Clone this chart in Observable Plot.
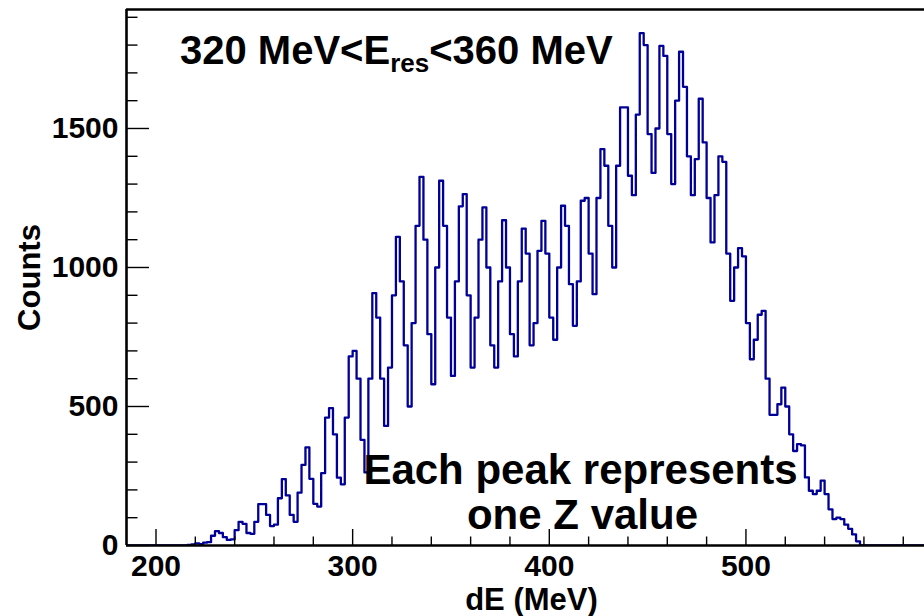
<!DOCTYPE html>
<html>
<head>
<meta charset="utf-8">
<script src="https://cdn.jsdelivr.net/npm/d3@7"></script>
<script src="https://cdn.jsdelivr.net/npm/@observablehq/plot@0.6"></script>
<style>
  html, body { margin: 0; padding: 0; background: #fff; }
  #chart { width: 924px; height: 616px; overflow: hidden; }
</style>
</head>
<body>
<div id="chart"></div>
<script>
// ---- data ----
const binStart = 184;   // MeV, left edge of first bin
const binWidth = 2;     // MeV
const counts = [
  0,0,0,0,0,0,0,0,0,0,0,0,0,0,0,0,
  2,4,8,5,10,12,35,52,45,30,20,22,55,85,78,45,42,85,149,149,
  110,70,75,170,239,180,110,85,190,290,353,240,150,140,260,460,494,400,244,220,
  460,680,700,600,380,263,600,908,820,600,430,640,900,1110,950,720,500,800,1150,1326,
  1100,760,580,1000,1312,1150,820,610,950,1220,1264,900,640,820,1100,1216,1000,720,640,950,
  1170,1000,760,680,950,1140,1050,720,800,1060,1168,1050,820,740,1000,1222,1150,940,790,950,
  1240,1250,1050,904,1250,1426,1366,1150,1000,1366,1576,1576,1330,1260,1550,1843,1800,1480,1340,1500,
  1797,1761,1480,1300,1600,1776,1650,1400,1260,1390,1607,1450,1250,1090,1260,1400,1380,1050,880,1000,
  1070,1040,800,670,740,830,844,600,470,470,508,568,500,400,340,365,360,245,197,185,
  197,233,185,130,95,100,95,75,60,40,15,
  0,0,0,0,0,0,0,0,0,0,0,0,0,0,0,0,0
];
const xTickLabels = [200, 300, 400, 500];
const yTickLabels = [0, 500, 1000, 1500];
const xTitle = "dE (MeV)";
const yTitle = "Counts";
const noteLines = ["Each peak represents", "one Z value"];

// ---- build ----
const xDomain = [185, 590.8];
const yDomain = [0, 1928];
const pts = counts.map((c, i) => ({x: binStart + i * binWidth, y: c}));
pts.push({x: binStart + counts.length * binWidth, y: counts[counts.length - 1]});

const xMinor = d3.range(200, 600, 20).filter(v => v % 100 !== 0);
const yMinor = d3.range(100, 1928, 100).filter(v => v % 500 !== 0);

const pxPerMeV = (924 - 126) / (xDomain[1] - xDomain[0]);
const pxPerCount = (545 - 9) / (yDomain[1] - yDomain[0]);

const font = "'Liberation Sans', Arial, Helvetica, sans-serif";

const plot = Plot.plot({
  width: 924,
  height: 616,
  marginLeft: 126,
  marginRight: 0,
  marginTop: 9,
  marginBottom: 71,
  x: {domain: xDomain, axis: null},
  y: {domain: yDomain, axis: null},
  style: {fontFamily: font, fontWeight: "bold", background: "white", color: "black"},
  marks: [
    Plot.line(pts, {x: "x", y: "y", curve: "step-after", stroke: "#000099", strokeWidth: 2.3, clip: true}),
    // ticks drawn inside the frame, ROOT style
    Plot.ruleX(xTickLabels, {x: d => d, y1: 0, y2: 16 / pxPerCount, stroke: "black", strokeWidth: 1.4}),
    Plot.ruleX(xMinor, {x: d => d, y1: 0, y2: 8.5 / pxPerCount, stroke: "black", strokeWidth: 1.4}),
    Plot.ruleY(yTickLabels, {y: d => d, x1: xDomain[0], x2: xDomain[0] + 23 / pxPerMeV, stroke: "black", strokeWidth: 1.4}),
    Plot.ruleY(yMinor, {y: d => d, x1: xDomain[0], x2: xDomain[0] + 11.5 / pxPerMeV, stroke: "black", strokeWidth: 1.4}),
    // frame (top, left, bottom)
    Plot.ruleY([yDomain[0]], {stroke: "black", strokeWidth: 2.6}),
    Plot.ruleY([yDomain[1]], {stroke: "black", strokeWidth: 2.6}),
    Plot.ruleX([xDomain[0]], {stroke: "black", strokeWidth: 2.6}),
    // tick labels
    Plot.text(yTickLabels, {x: xDomain[0], y: d => d, text: d => String(d), textAnchor: "end", dx: -8, fontSize: 30, fontWeight: "bold"}),
    Plot.text(xTickLabels, {x: d => d, y: 0, text: d => String(d), lineAnchor: "top", dy: 9, fontSize: 30, fontWeight: "bold"}),
    // axis titles
    Plot.text([yTitle], {frameAnchor: "left", text: d => d, rotate: -90, dx: -96, textAnchor: "middle", fontSize: 31, fontWeight: "bold"}),
    Plot.text([xTitle], {frameAnchor: "bottom-left", text: d => d, dx: 405, dy: 64, lineAnchor: "bottom", textAnchor: "middle", fontSize: 31, fontWeight: "bold"}),
    // annotation
    Plot.text([noteLines[0]], {frameAnchor: "top-left", text: d => d, dx: 454, dy: 474, lineAnchor: "bottom", textAnchor: "middle", fontSize: 42, fontWeight: "bold"}),
    Plot.text([noteLines[1]], {frameAnchor: "top-left", text: d => d, dx: 456, dy: 519, lineAnchor: "bottom", textAnchor: "middle", fontSize: 42, fontWeight: "bold"})
  ]
});

// title with subscript
const svg = d3.select(plot);
const t = svg.append("text")
  .attr("x", 180).attr("y", 64)
  .attr("text-anchor", "start")
  .attr("font-family", font).attr("font-weight", "bold").attr("font-size", 40).attr("fill", "black");
t.append("tspan").text("320 MeV<E");
t.append("tspan").attr("font-size", 26).attr("dy", 8).text("res");
t.append("tspan").attr("dy", -8).text("<360 MeV");

document.getElementById("chart").appendChild(plot);
</script>
</body>
</html>
